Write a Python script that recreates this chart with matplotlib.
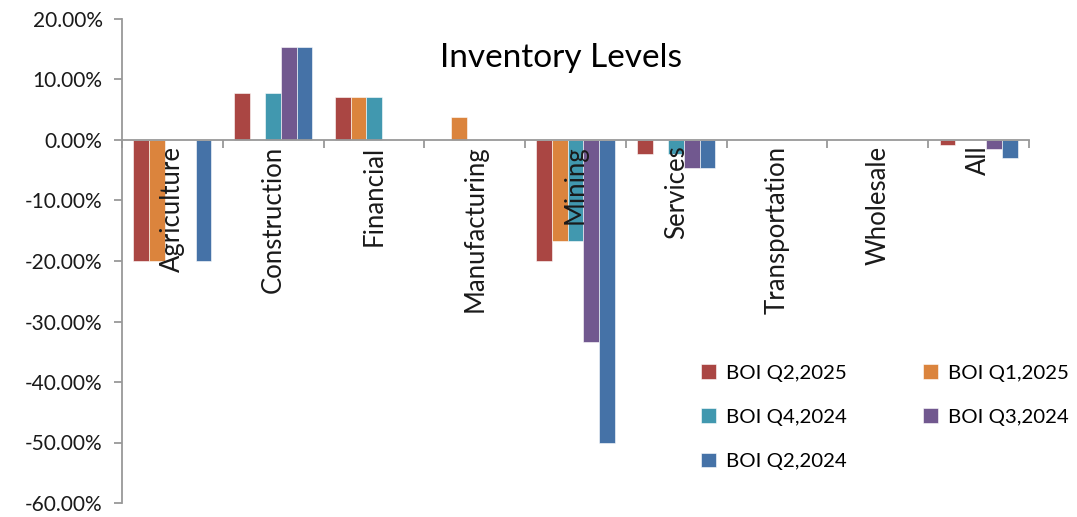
"""
Inventory levels by sector - grouped bar chart of BOI survey rounds
"""
import numpy as np
import matplotlib.pyplot as plt
from matplotlib.ticker import FuncFormatter, FixedLocator

plt.rcParams['font.family'] = ['Lato', 'DejaVu Sans']

sectors = ['Agriculture', 'Construction', 'Financial', 'Manufacturing', 'Mining',
           'Services', 'Transportation', 'Wholesale', 'All']

series_names = ['BOI Q2,2025', 'BOI Q1,2025', 'BOI Q4,2024', 'BOI Q3,2024', 'BOI Q2,2024']

# values in percent, one list per survey round
q2_2025 = [-20.00, 7.69, 7.14, 0.00, -20.00, -2.27, 0.00, 0.00, -0.80]
q1_2025 = [-20.00, 0.00, 7.14, 3.85, -16.67, 0.00, 0.00, 0.00, 0.00]
q4_2024 = [0.00, 7.69, 7.14, 0.00, -16.67, -2.27, 0.00, 0.00, 0.00]
q3_2024 = [0.00, 15.38, 0.00, 0.00, -33.33, -4.55, 0.00, 0.00, -1.50]
q2_2024 = [-20.00, 15.38, 0.00, 0.00, -50.00, -4.55, 0.00, 0.00, -3.00]

colors = ['#AA4643', '#DB843D', '#4198AF', '#71588F', '#4572A7']

fig = plt.figure(figsize=(10.77, 5.17), dpi=100)
ax = fig.add_axes([122 / 1077, 1 - 503 / 517, (1029 - 122) / 1077, (503 - 19) / 517])

x = np.arange(len(sectors))
width = 0.155
all_series = [q2_2025, q1_2025, q4_2024, q3_2024, q2_2024]
handles = []
for i, (vals, name, col) in enumerate(zip(all_series, series_names, colors)):
    offset = (i - 2) * width
    b = ax.bar(x + offset, vals, width, color=col, label=name,
               edgecolor='white', linewidth=0.4)
    handles.append(b)

ax.set_xlim(-0.5, len(sectors) - 0.5)
ax.set_ylim(-60, 20)
ax.set_yticks(np.arange(-60, 21, 10))
ax.yaxis.set_major_formatter(FuncFormatter(lambda v, p: f'{v:.2f}%'))

# x axis sits on the zero line, category names hang below it
ax.spines['bottom'].set_position(('data', 0))
ax.spines['top'].set_visible(False)
ax.spines['right'].set_visible(False)
for s in ['left', 'bottom']:
    ax.spines[s].set_color('#999999')
    ax.spines[s].set_linewidth(1.3)

ax.set_xticks(x)
ax.set_xticklabels(sectors, rotation=90, fontsize=18.5, color='#1a1a1a')
ax.xaxis.set_minor_locator(FixedLocator(np.arange(-0.5, len(sectors), 1.0)))
ax.tick_params(axis='x', which='major', length=0, pad=4)
ax.tick_params(axis='x', which='minor', length=6, width=1.3, color='#999999', direction='out')
ax.tick_params(axis='y', length=6, width=1.3, color='#999999', labelsize=15,
               labelcolor='#1a1a1a', pad=8)

ax.text(0.484, 0.92, 'Inventory Levels', transform=ax.transAxes, ha='center', va='center',
        fontsize=24, color='black')

# legend filled row by row: reorder for matplotlib's column-wise fill
order = [0, 2, 4, 1, 3]
ax.legend([handles[i] for i in order], [series_names[i] for i in order],
          loc='lower left', bbox_to_anchor=(0.618, 0.03), ncol=2, frameon=False,
          fontsize=14.7, handlelength=0.75, handleheight=0.75, handletextpad=0.5,
          columnspacing=3.7, labelspacing=1.3)

plt.savefig('out.png', dpi=100)
